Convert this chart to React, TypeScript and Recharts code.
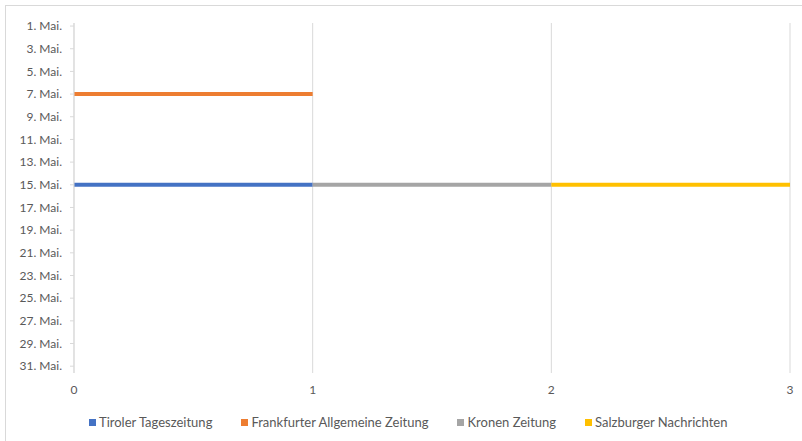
import { LineChart, Line, XAxis, YAxis, CartesianGrid, Legend } from "recharts";

// Zeitungen and the May day each one sits on, spanning x from start to end
const seriesNames = [
  "Tiroler Tageszeitung",
  "Frankfurter Allgemeine Zeitung",
  "Kronen Zeitung",
  "Salzburger Nachrichten",
];
const startX = [0, 0, 1, 2];
const endX = [1, 1, 2, 3];
const mayDays = [15, 7, 15, 15];

const xTicks = [0, 1, 2, 3];
const dayTicks = [1, 3, 5, 7, 9, 11, 13, 15, 17, 19, 21, 23, 25, 27, 29, 31];

const colors = ["#4472C4", "#ED7D31", "#A5A5A5", "#FFC000"];

const series = seriesNames.map((name, i) => ({
  name,
  color: colors[i],
  data: [
    { x: startX[i], day: mayDays[i] },
    { x: endX[i], day: mayDays[i] },
  ],
}));

const FONT = "Lato, 'Open Sans', sans-serif";
const TEXT = "#595959";

function LegendRow() {
  return (
    <div
      style={{
        display: "flex",
        gap: 29,
        paddingLeft: 89,
        fontFamily: FONT,
        fontSize: 13,
        color: TEXT,
        lineHeight: "16px",
      }}
    >
      {series.map((s) => (
        <div key={s.name} style={{ display: "flex", alignItems: "center" }}>
          <span
            style={{
              display: "inline-block",
              width: 7,
              height: 7,
              background: s.color,
              marginRight: 3,
            }}
          />
          {s.name}
        </div>
      ))}
    </div>
  );
}

export default function App() {
  return (
    <div
      style={{
        position: "absolute",
        left: 0,
        top: 0,
        width: 802,
        height: 441,
        background: "#fff",
        fontFamily: FONT,
      }}
    >
      <div
        style={{
          position: "absolute",
          left: 5,
          top: 5,
          width: 800,
          height: 440,
          border: "1px solid #d9d9d9",
        }}
      />
      <LineChart
        width={802}
        height={441}
        margin={{ top: 23, right: 12, bottom: 7, left: 0 }}
      >
        <CartesianGrid horizontal={false} stroke="#d9d9d9" />
        <XAxis
          type="number"
          dataKey="x"
          domain={[0, 3]}
          ticks={xTicks}
          axisLine={false}
          tickLine={false}
          tickSize={6}
          tickMargin={6}
          height={41}
          tick={{ fill: TEXT, fontSize: 12, fontFamily: FONT }}
        />
        <YAxis
          type="number"
          dataKey="day"
          reversed
          domain={[0.73, 31.6]}
          ticks={dayTicks}
          allowDataOverflow
          width={74}
          axisLine={{ stroke: "#d9d9d9" }}
          tickLine={{ stroke: "#d9d9d9" }}
          tickSize={4}
          tickMargin={8}
          tickFormatter={(d: number) => `${d}. Mai.`}
          tick={{ fill: TEXT, fontSize: 12, fontFamily: FONT }}
        />
        <Legend verticalAlign="bottom" height={20} content={() => <LegendRow />} />
        {series.map((s) => (
          <Line
            key={s.name}
            name={s.name}
            data={s.data}
            dataKey="day"
            stroke={s.color}
            strokeWidth={4}
            dot={false}
            activeDot={false}
            legendType="square"
            isAnimationActive={false}
          />
        ))}
      </LineChart>
    </div>
  );
}
